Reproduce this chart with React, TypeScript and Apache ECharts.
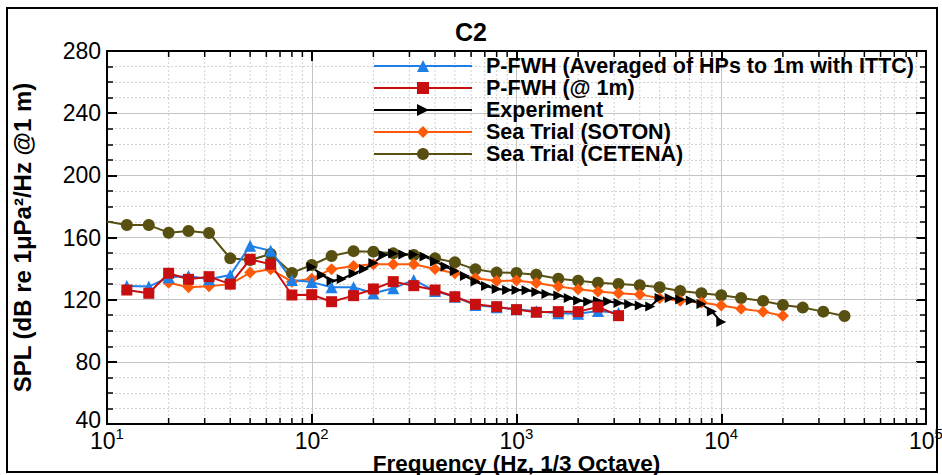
import React, { useEffect, useRef } from "react";
import * as echarts from "echarts";

// 1/3-octave band centres used by the P-FWH predictions
const bandFreqs = [12.5, 16, 20, 25, 31.5, 40, 50, 63, 80, 100, 125, 160, 200, 250, 315, 400, 500, 630, 800, 1000, 1250, 1600, 2000, 2500, 3150];
const pfwhAveraged = [128.8, 128.4, 134.4, 135.2, 133.1, 135.9, 154.7, 151.5, 132.7, 131.3, 128.0, 128.0, 124.1, 127.3, 132.7, 125.6, 121.9, 116.6, 115.1, 113.8, 112.5, 111.2, 111.0, 112.7, 111.5];
const pfwhAt1m = [126.2, 124.1, 137.0, 133.1, 134.8, 130.0, 146.0, 142.8, 123.0, 123.2, 118.7, 122.6, 126.9, 131.6, 129.0, 126.2, 121.9, 117.0, 115.5, 113.6, 111.9, 112.3, 112.3, 115.3, 109.7];

// Model-scale experiment
const expFreqs = [100, 112, 125, 140, 160, 180, 200, 224, 250, 280, 315, 355, 400, 450, 500, 560, 630, 710, 800, 900, 1000, 1120, 1250, 1400, 1600, 1800, 2000, 2240, 2500, 2800, 3150, 3550, 4000, 4500, 5000, 5600, 6300, 7100, 8000, 9000, 10000];
const experiment = [141.0, 135.9, 132.0, 133.3, 136.8, 139.7, 143.6, 148.7, 149.7, 149.0, 149.0, 147.8, 144.6, 141.3, 138.4, 135.2, 131.7, 128.8, 126.9, 126.2, 126.2, 126.0, 124.9, 123.7, 122.7, 121.1, 119.5, 118.7, 119.2, 118.8, 117.9, 117.0, 116.2, 115.6, 121.1, 121.1, 120.1, 119.5, 117.2, 112.4, 105.7];

// Full-scale sea trials
const sotonFreqs = [20, 25, 31.5, 40, 50, 63, 80, 100, 125, 160, 200, 250, 315, 400, 500, 630, 800, 1000, 1250, 1600, 2000, 2500, 3150, 4000, 5000, 6300, 8000, 10000, 12500, 16000, 20000];
const soton = [130.9, 128.0, 128.6, 130.0, 137.4, 139.5, 131.6, 133.5, 139.6, 141.7, 142.8, 142.8, 142.8, 139.7, 137.0, 133.8, 132.0, 132.3, 130.7, 128.4, 126.7, 125.2, 124.1, 123.4, 120.9, 119.3, 118.2, 116.3, 114.2, 112.3, 109.7];
const cetenaFreqs = [10, 12.5, 16, 20, 25, 31.5, 40, 50, 63, 80, 100, 125, 160, 200, 250, 315, 400, 500, 630, 800, 1000, 1250, 1600, 2000, 2500, 3150, 4000, 5000, 6300, 8000, 10000, 12500, 16000, 20000, 25000, 31500, 40000];
const cetena = [170.3, 168.0, 168.0, 163.1, 164.2, 162.9, 146.6, 145.5, 149.4, 137.2, 142.3, 148.1, 151.2, 150.9, 149.8, 148.7, 146.6, 144.0, 139.5, 137.4, 137.2, 136.0, 133.5, 132.2, 130.9, 130.1, 129.3, 128.0, 125.6, 124.1, 122.8, 121.1, 119.2, 116.6, 114.9, 112.3, 109.5];

// Axis ranges and the in-between log ticks (2..9 of each decade)
const freqMin = 10;
const freqMax = 100000;
const splMin = 40;
const splMax = 280;
const splStep = 40;
const minorFreqs = [
  20, 30, 40, 50, 60, 70, 80, 90,
  200, 300, 400, 500, 600, 700, 800, 900,
  2000, 3000, 4000, 5000, 6000, 7000, 8000, 9000,
  20000, 30000, 40000, 50000, 60000, 70000, 80000, 90000,
];

const seriesNames = [
  "P-FWH (Averaged of HPs to 1m with ITTC)",
  "P-FWH (@ 1m)",
  "Experiment",
  "Sea Trial (SOTON)",
  "Sea Trial (CETENA)",
];
const xTitle = "Frequency (Hz, 1/3 Octave)";
const yTitle = "SPL (dB re 1μPa²/Hz @1 m)";

const FONT = "'Liberation Sans', Arial, Helvetica, sans-serif";

// plot box in pixels
const GRID = { left: 107, right: 16, top: 51, bottom: 51 };
const WIDTH = 942;
const HEIGHT = 475;

function pairs(xs: number[], ys: number[]) {
  return xs.map((x, i) => [x, ys[i]]);
}

export default function App() {
  const ref = useRef<HTMLDivElement>(null);

  useEffect(() => {
    if (!ref.current) return;
    const chart = echarts.init(ref.current, undefined, { renderer: "svg" });

    const cetenaData: any[] = pairs(cetenaFreqs, cetena);
    cetenaData[0] = { value: cetenaData[0], symbol: "none" };

    const lineSeries = (name: string, data: any[], color: string, symbol: string, size: number, extra: any = {}) => ({
      name,
      type: "line",
      data,
      xAxisIndex: 0,
      yAxisIndex: 0,
      symbol,
      symbolSize: size,
      showSymbol: true,
      clip: false,
      lineStyle: { color, width: 2 },
      itemStyle: { color, borderWidth: 0 },
      emphasis: { disabled: true },
      z: 5,
      ...extra,
    });

    const plotCenterX = GRID.left + (WIDTH - GRID.left - GRID.right) / 2;

    const option: any = {
      animation: false,
      backgroundColor: "#ffffff",
      title: {
        text: "C2",
        left: "center",
        top: 14,
        textStyle: { fontFamily: FONT, fontSize: 25, fontWeight: "bold", color: "#000" },
      },
      graphic: [
        {
          type: "rect",
          shape: { x: 7, y: 8, width: 930, height: 464 },
          style: { fill: "none", stroke: "#000", lineWidth: 2 },
          silent: true,
        },
        {
          type: "text",
          x: plotCenterX,
          y: 463.5,
          silent: true,
          style: {
            text: xTitle,
            align: "center",
            verticalAlign: "middle",
            fontFamily: FONT,
            fontSize: 22.5,
            fontWeight: "bold",
            fill: "#000",
          },
        },
      ],
      legend: {
        data: seriesNames,
        orient: "vertical",
        left: 368,
        top: 50,
        itemWidth: 98,
        itemHeight: 15,
        itemGap: 0,
        textStyle: {
          fontFamily: FONT,
          fontSize: 21.5,
          fontWeight: "bold",
          color: "#000",
          lineHeight: 21.5,
          padding: [0, 0, 0, 9],
        },
        selectedMode: false,
      },
      grid: {
        ...GRID,
        containLabel: false,
        outerBoundsMode: "none",
      },
      xAxis: [
        {
          type: "log",
          logBase: 10,
          min: freqMin,
          max: freqMax,
          position: "bottom",
          axisLine: { show: true, onZero: false, lineStyle: { color: "#000", width: 2 } },
          axisTick: { show: true, inside: true, length: 10, lineStyle: { color: "#000", width: 2 } },
          axisLabel: {
            margin: 2,
            color: "#000",
            formatter: (v: number) => `{b|10}{s|${Math.round(Math.log10(v))}}`,
            rich: {
              b: { fontFamily: FONT, fontSize: 23, color: "#000", lineHeight: 26, verticalAlign: "bottom" },
              s: { fontFamily: FONT, fontSize: 15, color: "#000", lineHeight: 26, verticalAlign: "top" },
            },
          },
          splitLine: { show: true, lineStyle: { color: "#c4c4c4", width: 1, type: "solid" } },
        },
        {
          type: "log",
          logBase: 10,
          min: freqMin,
          max: freqMax,
          position: "top",
          axisLine: { show: true, onZero: false, lineStyle: { color: "#000", width: 2 } },
          axisTick: { show: true, inside: true, length: 10, lineStyle: { color: "#000", width: 2 } },
          axisLabel: { show: false },
          splitLine: { show: false },
        },
      ],
      yAxis: [
        {
          type: "value",
          min: splMin,
          max: splMax,
          interval: splStep,
          position: "left",
          name: yTitle,
          nameLocation: "middle",
          nameGap: 73,
          nameTextStyle: { fontFamily: FONT, fontSize: 24, fontWeight: "bold", color: "#000", lineHeight: 24 },
          axisLine: { show: true, onZero: false, lineStyle: { color: "#000", width: 2 } },
          axisTick: { show: true, inside: true, length: 10, lineStyle: { color: "#000", width: 2 } },
          minorTick: { show: true, splitNumber: 4, length: 6, lineStyle: { color: "#000", width: 1.5 } },
          axisLabel: {
            margin: 6,
            formatter: (v: number) => (v === splMin ? `{lift|${v}}` : `{n|${v}}`),
            rich: {
              n: { fontFamily: FONT, fontSize: 23, color: "#000", lineHeight: 16 },
              lift: { fontFamily: FONT, fontSize: 23, color: "#000", lineHeight: 16, padding: [0, 0, 8, 0] },
            },
          },
          splitLine: { show: true, lineStyle: { color: "#c4c4c4", width: 1, type: "solid" } },
          minorSplitLine: { show: true, lineStyle: { color: "#d2d2d2", width: 1, type: [2, 2] } },
        },
        {
          type: "value",
          min: splMin,
          max: splMax,
          interval: splStep,
          position: "right",
          axisLine: { show: true, onZero: false, lineStyle: { color: "#000", width: 2 } },
          axisTick: { show: true, inside: true, length: 10, lineStyle: { color: "#000", width: 2 } },
          minorTick: { show: true, splitNumber: 4, length: 6, lineStyle: { color: "#000", width: 1.5 } },
          axisLabel: { show: false },
          splitLine: { show: false },
        },
      ],
      series: [
        {
          name: "minor-frequency-grid",
          type: "custom",
          xAxisIndex: 0,
          yAxisIndex: 0,
          data: minorFreqs.map((f) => [f, splMin]),
          silent: true,
          z: 1,
          clip: false,
          renderItem: (_params: any, api: any) => {
            const f = api.value(0);
            const bot = api.coord([f, splMin]);
            const top = api.coord([f, splMax]);
            return {
              type: "group",
              children: [
                {
                  type: "line",
                  shape: { x1: bot[0], y1: bot[1], x2: top[0], y2: top[1] },
                  style: { stroke: "#d2d2d2", lineWidth: 1, lineDash: [2, 2] },
                },
                {
                  type: "line",
                  shape: { x1: bot[0], y1: bot[1], x2: bot[0], y2: bot[1] - 6 },
                  style: { stroke: "#000", lineWidth: 1.5 },
                },
                {
                  type: "line",
                  shape: { x1: top[0], y1: top[1], x2: top[0], y2: top[1] + 6 },
                  style: { stroke: "#000", lineWidth: 1.5 },
                },
              ],
            };
          },
        },
        lineSeries(seriesNames[4], cetenaData, "#585010", "circle", 12),
        lineSeries(seriesNames[3], pairs(sotonFreqs, soton), "#ff5a0a", "diamond", 12),
        lineSeries(seriesNames[2], pairs(expFreqs, experiment), "#000000", "triangle", 10, { symbolRotate: -90 }),
        lineSeries(seriesNames[0], pairs(bandFreqs, pfwhAveraged), "#1f7fe8", "triangle", 12),
        lineSeries(seriesNames[1], pairs(bandFreqs, pfwhAt1m), "#c80f0f", "rect", 11),
      ],
    };

    chart.setOption(option);
    return () => chart.dispose();
  }, []);

  return (
    <div
      ref={ref}
      style={{ position: "fixed", left: 0, top: 0, width: WIDTH, height: HEIGHT, background: "#fff" }}
    />
  );
}
